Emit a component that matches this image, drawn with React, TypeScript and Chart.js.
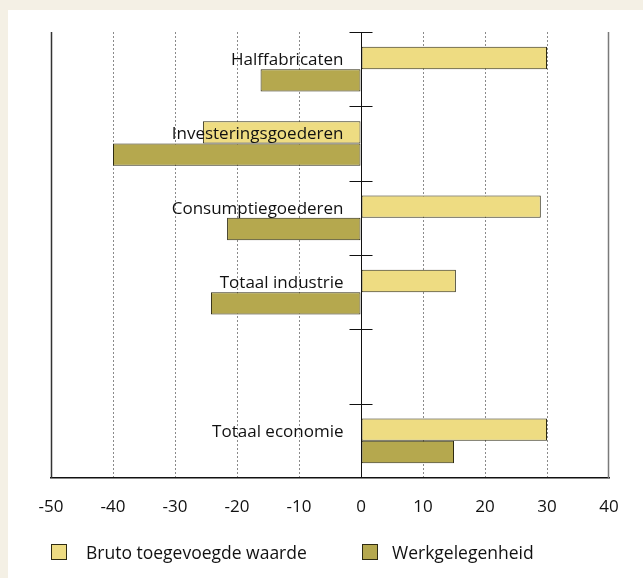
import React, { useEffect, useRef } from 'react';
import { Chart, registerables } from 'chart.js';

Chart.register(...registerables);

const categories = [
  'Halffabricaten',
  'Investeringsgoederen',
  'Consumptiegoederen',
  'Totaal industrie',
  '',
  'Totaal economie',
];
const brutoToegevoegdeWaarde = [30, -25.5, 29, 15.3, null, 30];
const werkgelegenheid = [-16.2, -40, -21.6, -24.2, null, 15];
const seriesNames = ['Bruto toegevoegde waarde', 'Werkgelegenheid'];
const xMin = -50;
const xMax = 40;
const xStep = 10;

const YELLOW = '#eedc82';
const OLIVE = '#b5a84e';
const BAR_BORDER = '#2e2b12';
const CREAM = '#f4f0e5';
const FONT = "'Open Sans', sans-serif";

const decorPlugin = {
  id: 'decor',
  beforeDraw(chart: any) {
    const { ctx, width, height } = chart;
    ctx.save();
    ctx.fillStyle = CREAM;
    ctx.fillRect(0, 0, width, height);
    ctx.fillStyle = '#ffffff';
    ctx.fillRect(8, 10, width - 8, height - 10);
    ctx.restore();
  },
  beforeDatasetsDraw(chart: any) {
    const { ctx, chartArea, scales } = chart;
    const x = scales.x;
    ctx.save();
    const xl = Math.round(x.getPixelForValue(xMin)) + 0.5;
    const xr = Math.round(x.getPixelForValue(xMax)) - 0.5;
    ctx.lineWidth = 1.5;
    ctx.strokeStyle = '#333333';
    ctx.beginPath();
    ctx.moveTo(xl, chartArea.top);
    ctx.lineTo(xl, chartArea.bottom);
    ctx.stroke();
    ctx.strokeStyle = '#7a7a7a';
    ctx.beginPath();
    ctx.moveTo(xr, chartArea.top);
    ctx.lineTo(xr, chartArea.bottom);
    ctx.stroke();
    ctx.restore();
  },
  afterDatasetsDraw(chart: any) {
    const { ctx, chartArea, scales } = chart;
    const x = scales.x;
    const y = scales.y;
    ctx.save();
    const x0 = Math.round(x.getPixelForValue(0)) + 0.5;
    ctx.strokeStyle = '#111111';
    ctx.lineWidth = 1;
    ctx.beginPath();
    ctx.moveTo(x0, chartArea.top);
    ctx.lineTo(x0, chartArea.bottom);
    ctx.stroke();
    const step = y.getPixelForValue(1) - y.getPixelForValue(0);
    for (let i = 0; i < categories.length; i++) {
      const yy = Math.round(y.getPixelForValue(i) - step / 2) + 0.5;
      ctx.beginPath();
      ctx.moveTo(x0 - 12, yy);
      ctx.lineTo(x0 + 11, yy);
      ctx.stroke();
    }
    const meta = chart.getDatasetMeta(0);
    ctx.fillStyle = '#111111';
    ctx.font = `17px ${FONT}`;
    ctx.textAlign = 'right';
    ctx.textBaseline = 'middle';
    categories.forEach((c, i) => {
      if (!c) return;
      const el = meta.data[i];
      const yy = el ? el.y : y.getPixelForValue(i);
      ctx.fillText(c, x0 - 18, yy + 2);
    });
    ctx.restore();
  },
};

export default function App() {
  const ref = useRef<HTMLCanvasElement>(null);
  useEffect(() => {
    if (!ref.current) return;
    const chart = new Chart(ref.current, {
      type: 'bar',
      data: {
        labels: categories,
        datasets: [
          {
            label: seriesNames[0],
            data: brutoToegevoegdeWaarde,
            backgroundColor: YELLOW,
            borderColor: BAR_BORDER,
            borderWidth: 1,
            borderSkipped: false,
            categoryPercentage: 0.6,
            barPercentage: 1.0,
          },
          {
            label: seriesNames[1],
            data: werkgelegenheid,
            backgroundColor: OLIVE,
            borderColor: BAR_BORDER,
            borderWidth: 1,
            borderSkipped: false,
            categoryPercentage: 0.6,
            barPercentage: 1.0,
          },
        ],
      },
      options: {
        indexAxis: 'y',
        responsive: false,
        animation: false,
        layout: { padding: { left: 51, right: 34, top: 32, bottom: 60 } },
        plugins: {
          legend: { display: false },
          tooltip: { enabled: false },
        },
        scales: {
          x: {
            type: 'linear',
            min: xMin,
            max: xMax,
            position: 'bottom',
            ticks: {
              stepSize: xStep,
              color: '#111111',
              font: { family: FONT, size: 17 },
              padding: 19,
            },
            grid: {
              drawTicks: false,
              color: (c: any) =>
                c.tick && (c.tick.value === xMin || c.tick.value === 0 || c.tick.value === xMax)
                  ? 'rgba(0,0,0,0)'
                  : '#8a8a8a',
              lineWidth: 1,
            },
            border: { display: true, color: '#111111', width: 1.5, dash: [2, 2] },
            afterFit: (s: any) => {
              s.height = 40;
            },
          },
          y: {
            type: 'category',
            display: false,
            offset: true,
          },
        },
      },
      plugins: [decorPlugin],
    } as any);
    return () => chart.destroy();
  }, []);

  const legendText: React.CSSProperties = {
    position: 'absolute',
    top: 540,
    fontFamily: FONT,
    fontSize: 17.5,
    lineHeight: '24px',
    color: '#111111',
    whiteSpace: 'nowrap',
  };
  const swatch = (left: number, color: string): React.CSSProperties => ({
    position: 'absolute',
    left,
    top: 544,
    width: 14,
    height: 14,
    background: color,
    border: `1px solid ${BAR_BORDER}`,
  });

  return (
    <div style={{ position: 'absolute', left: 0, top: 0, width: 643, height: 578, overflow: 'hidden' }}>
      <canvas ref={ref} width={643} height={578} style={{ display: 'block', width: 643, height: 578 }} />
      <div style={swatch(51, YELLOW)} />
      <div style={{ ...legendText, left: 86 }}>{seriesNames[0]}</div>
      <div style={swatch(362, OLIVE)} />
      <div style={{ ...legendText, left: 392 }}>{seriesNames[1]}</div>
    </div>
  );
}
